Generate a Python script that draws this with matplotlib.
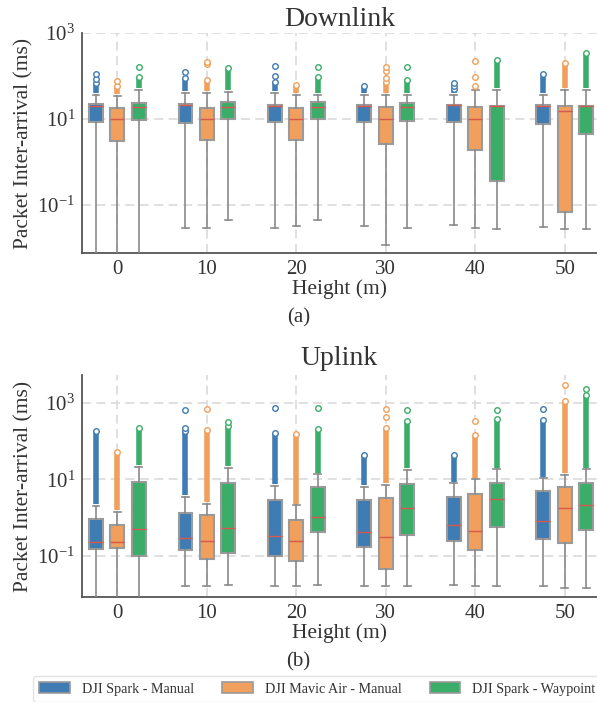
import numpy as np
import matplotlib
matplotlib.use("Agg")
import matplotlib.pyplot as plt
from matplotlib.patches import Patch

plt.rcParams['font.family'] = ['Liberation Serif', 'DejaVu Serif']
plt.rcParams['mathtext.fontset'] = 'stix'
plt.rcParams['text.color'] = '#333333'
plt.rcParams['axes.labelcolor'] = '#333333'
plt.rcParams['xtick.color'] = '#333333'
plt.rcParams['ytick.color'] = '#333333'

heights = [0, 10, 20, 30, 40, 50]
series = ["DJI Spark - Manual", "DJI Mavic Air - Manual", "DJI Spark - Waypoint"]
colors = ["#3f7cb3", "#f0a05c", "#3aae68"]

# ---------------- Downlink (per series, per height) ----------------
dl_q3 = [[22, 22, 21.6, 21.6, 21.6, 21],
         [17.7, 18.4, 18.4, 18.7, 19.4, 20],
         [23.6, 24.5, 24.5, 23.6, 20, 20]]
dl_med = [[20, 21, 20.5, 20.5, 21, 20],
          [10, 10, 10, 10, 10, 15.4],
          [19, 19, 19, 18.7, 20, 20]]
dl_q1 = [[8.7, 8.2, 8.3, 8.4, 8.4, 7.6],
         [3.0, 3.2, 3.2, 2.6, 1.9, 0.068],
         [9.3, 10, 10, 9.2, 0.37, 4.5]]
dl_whi = [[36, 40, 40, 36, 37, 36],
          [35, 41, 36, 36, 47.5, 47.5],
          [47.5, 43.5, 36, 36, 47.5, 47.5]]
dl_wlo = [[0.001, 0.030, 0.030, 0.033, 0.034, 0.031],
          [0.001, 0.029, 0.032, 0.012, 0.030, 0.028],
          [0.001, 0.045, 0.044, 0.030, 0.028, 0.028]]
dl_dense_top = [[68, 89, 74, 59, 49, 112],
                [60, 81, 62, 74, 47.5, 198],
                [93, 152, 97, 81, 238, 340]]
dl_outliers = [[[85, 112], [123], [100, 174], [], [57, 68], []],
               [[77], [190, 210], [], [88, 132, 166], [57, 97, 225], []],
               [[163], [], [165], [160], [], []]]

# ---------------- Uplink ----------------
ul_q3 = [[0.91, 1.33, 2.9, 2.9, 3.5, 4.8],
         [0.66, 1.2, 0.89, 3.2, 4.1, 6.3],
         [8.3, 7.9, 6.2, 7.6, 7.9, 7.9]]
ul_med = [[0.23, 0.30, 0.33, 0.41, 0.63, 0.81],
          [0.23, 0.24, 0.24, 0.32, 0.44, 1.8],
          [0.50, 0.55, 1.05, 1.77, 3.0, 2.1]]
ul_q1 = [[0.155, 0.14, 0.10, 0.17, 0.245, 0.28],
         [0.16, 0.085, 0.076, 0.047, 0.14, 0.22],
         [0.10, 0.12, 0.41, 0.35, 0.56, 0.47]]
ul_whi = [[2.0, 3.5, 6.8, 6.4, 7.9, 10.6],
          [1.4, 2.3, 2.1, 7.1, 10, 13],
          [21.5, 20, 13.5, 17.6, 18.4, 18.4]]
ul_wlo = [[0.001, 0.016, 0.016, 0.016, 0.017, 0.016],
          [0.001, 0.016, 0.016, 0.016, 0.016, 0.015],
          [0.001, 0.017, 0.017, 0.016, 0.016, 0.015]]
ul_dense_top = [[178, 178, 162, 44, 44, 360],
                [50, 190, 155, 218, 140, 1100],
                [218, 240, 200, 325, 385, 1620]]
ul_outliers = [[[], [218, 660], [720], [], [], [690]],
               [[], [690], [], [415, 690], [325], [2900]],
               [[], [310], [720], [660], [630], [2240]]]

offsets = [-0.239, 0.0, 0.239]
box_w = 0.155


def draw(ax, q1, med, q3, wlo, whi, dtop, outl):
    base = np.arange(len(heights))
    for s in range(3):
        pos = base + offsets[s]
        stats = []
        for i in range(len(heights)):
            stats.append(dict(med=med[s][i], q1=q1[s][i], q3=q3[s][i],
                              whislo=wlo[s][i], whishi=whi[s][i], fliers=[]))
        ax.bxp(stats, positions=pos, widths=box_w, patch_artist=True,
               showfliers=False, manage_ticks=False,
               boxprops=dict(facecolor=colors[s], edgecolor='#9a9a9a', linewidth=1.5),
               medianprops=dict(color='#d6584f', linewidth=1.0),
               whiskerprops=dict(color='#8a8a8a', linewidth=1.2),
               capprops=dict(color='#8a8a8a', linewidth=1.2),
               zorder=3)
        for i in range(len(heights)):
            if dtop[s][i] > whi[s][i]:
                ax.vlines(pos[i], whi[s][i] * 1.1, dtop[s][i], color=colors[s],
                          linewidth=4.0, zorder=3)
                ax.scatter([pos[i]], [dtop[s][i]], s=16, facecolors='white',
                           edgecolors=colors[s], linewidths=1.0, zorder=4)
            if outl[s][i]:
                ax.scatter([pos[i]] * len(outl[s][i]), outl[s][i], s=16,
                           facecolors='white', edgecolors=colors[s],
                           linewidths=1.0, zorder=4)
    ax.set_yscale('log')
    ax.set_xticks(base)
    ax.set_xticklabels([str(h) for h in heights])
    ax.set_yticks([0.1, 10, 1000])
    ax.yaxis.set_minor_locator(matplotlib.ticker.NullLocator())
    ax.set_xlim(-0.395, 5.36)
    ax.grid(True, linestyle='--', color='#dddddd', linewidth=1.3, dashes=(5, 3))
    ax.set_axisbelow(True)
    for sp in ['top', 'right']:
        ax.spines[sp].set_visible(False)
    for sp in ['left', 'bottom']:
        ax.spines[sp].set_color('#555555')
        ax.spines[sp].set_linewidth(1.3)
    ax.tick_params(length=0, labelsize=15, pad=5)
    ax.set_ylabel('Packet Inter-arrival (ms)', fontsize=15.5, labelpad=3)
    ax.set_xlabel('Height (m)', fontsize=15.5, labelpad=0)


fig = plt.figure(figsize=(5.97, 7.02), dpi=100)
ax1 = fig.add_axes([0.1374, 0.6396, 0.8626, 0.3134])
ax2 = fig.add_axes([0.1374, 0.1496, 0.8626, 0.3162])

draw(ax1, dl_q1, dl_med, dl_q3, dl_wlo, dl_whi, dl_dense_top, dl_outliers)
ax1.set_ylim(0.00766, 1000)
ax1.set_title('Downlink', fontsize=20, pad=5)

draw(ax2, ul_q1, ul_med, ul_q3, ul_wlo, ul_whi, ul_dense_top, ul_outliers)
ax2.set_ylim(0.0085, 5250)
ax2.set_title('Uplink', fontsize=20, pad=7)

fig.text(0.5, 1 - 318 / 702, '(a)', ha='center', va='center', fontsize=15)
fig.text(0.5, 1 - 662 / 702, '(b)', ha='center', va='center', fontsize=15)

handles = [Patch(facecolor=c, edgecolor='#9a9a9a', linewidth=1.2) for c in colors]
leg = fig.legend(handles, series, loc='lower left', bbox_to_anchor=(33 / 597, 0.0),
                 borderaxespad=0.0,
                 ncol=3, fontsize=10.2, frameon=True, handlelength=2.15,
                 handleheight=0.8, columnspacing=2.0, borderpad=0.45,
                 handletextpad=0.85, edgecolor='#dddddd', fancybox=True)

fig.savefig('out.png', dpi=100)
